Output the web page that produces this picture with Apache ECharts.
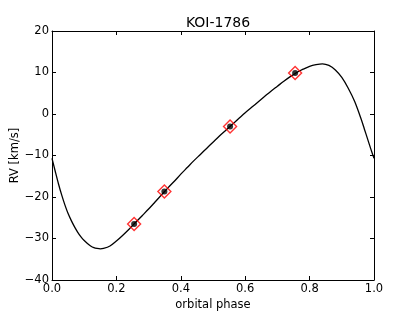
<!DOCTYPE html>
<html>
<head>
<meta charset="utf-8">
<script src="https://cdn.jsdelivr.net/npm/echarts@6/dist/echarts.min.js"></script>
<style>
html,body{margin:0;padding:0;background:#fff;}
#chart{width:415px;height:312px;}
</style>
</head>
<body>
<div id="chart"></div>
<script>
// Model curve
const curvePhase = [0.00,0.01,0.02,0.03,0.04,0.05,0.06,0.07,0.08,0.09,0.10,0.11,0.12,0.13,0.14,0.15,0.16,0.18,0.20,0.22,0.24,0.26,0.28,0.30,0.32,0.34,0.36,0.38,0.40,0.42,0.44,0.46,0.48,0.50,0.52,0.54,0.56,0.58,0.60,0.62,0.64,0.66,0.68,0.70,0.72,0.74,0.76,0.78,0.80,0.82,0.84,0.86,0.88,0.90,0.92,0.94,0.96,0.97,0.98,0.99,1.00];
const curveRV = [-10.7,-13.8,-16.8,-19.5,-21.9,-24.0,-25.7,-27.2,-28.5,-29.6,-30.5,-31.2,-31.8,-32.2,-32.4,-32.5,-32.4,-31.8,-30.6,-29.2,-27.7,-26.1,-24.5,-22.9,-21.2,-19.5,-17.8,-16.2,-14.5,-12.9,-11.3,-9.8,-8.3,-6.8,-5.3,-3.9,-2.5,-1.1,0.3,1.6,2.9,4.2,5.5,6.7,7.9,9.0,10.0,10.8,11.5,11.9,12.1,11.7,10.6,8.8,6.2,3.0,-1.2,-3.6,-6.0,-8.4,-10.7];
// Observed points
const obsPhase = [0.255,0.349,0.553,0.755];
const obsRV = [-26.5,-18.7,-3.0,9.9];
// Tick labels
const xTickLabels = ['0.0','0.2','0.4','0.6','0.8','1.0'];
const yTickLabels = ['\u221240','\u221230','\u221220','\u221210','0','10','20'];

const FONT = 'DejaVu Sans';
const curveData = curvePhase.map((p,i)=>[p,curveRV[i]]);
const obsData = obsPhase.map((p,i)=>[p,obsRV[i]]);

const axisLine = {show:true,onZero:false,lineStyle:{color:'#000',width:1}};
const tick = {show:true,inside:true,length:4,lineStyle:{color:'#000',width:1}};
const lab = {color:'#000',fontFamily:FONT,fontSize:11.5};

const chart = echarts.init(document.getElementById('chart'),null,{renderer:'canvas'});
chart.setOption({
  animation:false,
  backgroundColor:'#fff',
  title:{text:'KOI-1786',left:213,top:11,textAlign:'center',
    textStyle:{fontFamily:FONT,fontSize:14,fontWeight:'normal',color:'#000'}},
  grid:{left:52,right:41,top:31,bottom:32,containLabel:false,outerBoundsMode:'none'},
  xAxis:[
    {type:'value',min:0,max:1,interval:0.2,position:'bottom',
     name:'orbital phase',nameLocation:'middle',nameGap:19,nameMoveOverlap:false,
     nameTextStyle:{fontFamily:FONT,fontSize:11.5,color:'#000'},
     axisLine:axisLine,axisTick:tick,splitLine:{show:false},
     axisLabel:Object.assign({margin:3,formatter:(v)=>xTickLabels[Math.round(v/0.2)]},lab)},
    {type:'value',min:0,max:1,interval:0.2,position:'top',
     axisLine:axisLine,axisTick:tick,splitLine:{show:false},axisLabel:{show:false}}
  ],
  yAxis:[
    {type:'value',min:-40,max:20,interval:10,position:'left',
     name:'RV [km/s]',nameLocation:'middle',nameGap:31,nameMoveOverlap:false,
     nameTextStyle:{fontFamily:FONT,fontSize:11.5,color:'#000'},
     axisLine:axisLine,axisTick:tick,splitLine:{show:false},
     axisLabel:Object.assign({margin:3,formatter:(v)=>yTickLabels[Math.round((v+40)/10)]},lab)},
    {type:'value',min:-40,max:20,interval:10,position:'right',
     axisLine:axisLine,axisTick:tick,splitLine:{show:false},axisLabel:{show:false}}
  ],
  series:[
    {type:'line',data:curveData,showSymbol:false,smooth:0.3,
     lineStyle:{color:'#000',width:1.3},z:2},
    {type:'scatter',data:obsData,symbol:'diamond',symbolSize:13,
     itemStyle:{color:'rgba(0,0,0,0)',borderColor:'#ff0000',borderWidth:1.4},z:3},
    {type:'scatter',data:obsData,symbol:'circle',symbolSize:6,
     itemStyle:{color:'#000'},z:4}
  ]
});
</script>
</body>
</html>
